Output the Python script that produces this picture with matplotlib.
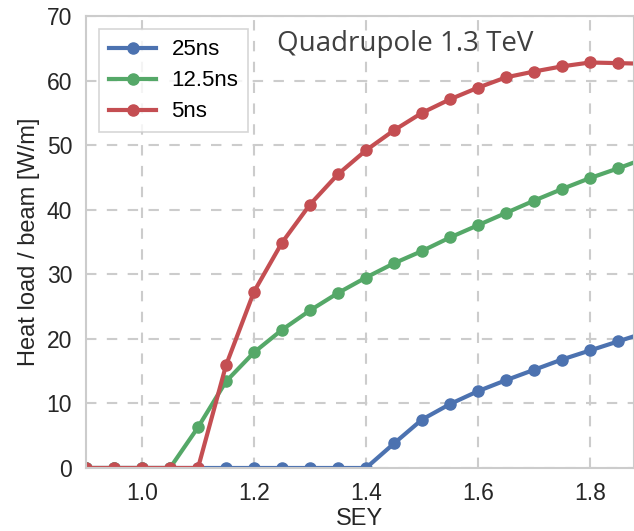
import numpy as np
import matplotlib.pyplot as plt

sey = [0.9, 0.95, 1.0, 1.05, 1.1, 1.15, 1.2, 1.25, 1.3, 1.35, 1.4,
       1.45, 1.5, 1.55, 1.6, 1.65, 1.7, 1.75, 1.8, 1.85, 1.9]
hl_25ns = [0, 0, 0, 0, 0, 0, 0, 0, 0, 0, 0,
           3.8, 7.5, 9.9, 11.9, 13.6, 15.2, 16.8, 18.2, 19.6, 21.0]
hl_12p5ns = [0, 0, 0, 0, 6.3, 13.4, 17.9, 21.4, 24.4, 27.1, 29.5,
             31.7, 33.6, 35.7, 37.6, 39.5, 41.4, 43.2, 44.9, 46.4, 48.0]
hl_5ns = [0, 0, 0, 0, 0, 15.9, 27.3, 34.9, 40.8, 45.5, 49.2,
          52.3, 55.0, 57.1, 58.9, 60.5, 61.4, 62.2, 62.8, 62.7, 62.6]

plt.rcParams['font.family'] = ['Liberation Sans', 'DejaVu Sans']

fig = plt.figure(figsize=(6.34, 5.31), dpi=100)
ax = fig.add_axes([86/634, 63/531, (634-86)/634, (468-16)/531])

ax.plot(sey, hl_25ns, '-o', color='#4C72B0', lw=3, ms=8, label='25ns')
ax.plot(sey, hl_12p5ns, '-o', color='#55A868', lw=3, ms=8, label='12.5ns')
ax.plot(sey, hl_5ns, '-o', color='#C44E52', lw=3, ms=8, label='5ns')

ax.set_xlim(0.9, 1.8786)
ax.set_ylim(0, 70)
ax.set_xticks([1.0, 1.2, 1.4, 1.6, 1.8])
ax.set_yticks(range(0, 71, 10))
ax.grid(True, ls='--', color='#cccccc', lw=1.5, dashes=(5, 5))
ax.set_axisbelow(True)
for s in ax.spines.values():
    s.set_color('#cccccc')
    s.set_linewidth(1.5)
ax.tick_params(length=0, labelsize=16.5, colors='#262626', pad=10)
ax.set_xlabel('SEY', fontsize=17, color='#262626', labelpad=2)
ax.set_ylabel('Heat load / beam [W/m]', fontsize=17, color='#262626', labelpad=5)

ax.text(0.349, 0.938, 'Quadrupole 1.3 TeV', transform=ax.transAxes,
        fontsize=20, color='#404040', family='Open Sans', va='center')

leg = ax.legend(loc='upper left', fontsize=16, frameon=True, fancybox=False,
                handlelength=2.1, handletextpad=0.7, labelspacing=0.45,
                borderpad=0.45, borderaxespad=0.6)
leg.get_frame().set_edgecolor('#cccccc')
leg.get_frame().set_linewidth(1.2)

fig.savefig('out.png', dpi=100)
